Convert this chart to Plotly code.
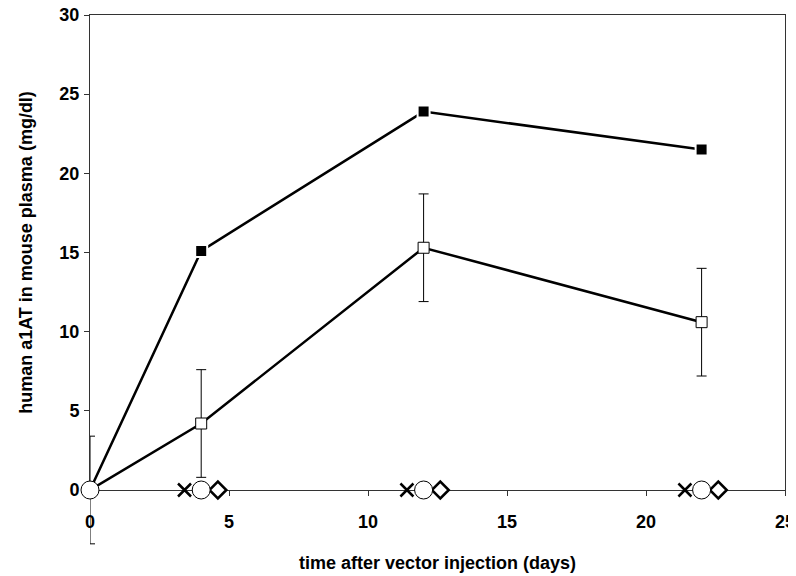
import plotly.graph_objects as go

days_sq = [0, 4, 12, 22]
filled_vals = [0, 15.1, 23.9, 21.5]
open_vals = [0, 4.2, 15.3, 10.6]
open_err = [3.4, 3.4, 3.4, 3.4]

circle_days = [0, 4, 12, 22]
circle_vals = [0, 0, 0, 0]
cross_days = [3.4, 11.4, 21.4]
cross_vals = [0, 0, 0]
diamond_days = [4.6, 12.6, 22.6]
diamond_vals = [0, 0, 0]

xticks = [0, 5, 10, 15, 20, 25]
yticks = [0, 5, 10, 15, 20, 25, 30]
x_range = [0, 25]
y_range = [0, 30]

font_fam = "Liberation Sans, Arial, sans-serif"

# layout geometry (pixels)
W, H = 796, 576
m_l, m_r, m_t = 82, 19, 7
main_h = 475          # height of the main plot box
below = 60            # extra room under y=0 for the error bar at day 0
m_b = H - m_t - main_h - below
area_h = main_h + below
y2_low = y_range[0] - below * (y_range[1] - y_range[0]) / main_h

fig = go.Figure()

# open squares (error bars for the points inside the box)
fig.add_trace(go.Scatter(
    x=days_sq[1:], y=open_vals[1:], mode="markers",
    marker=dict(size=0, opacity=0),
    error_y=dict(type="data", array=open_err[1:], visible=True, color="black", thickness=1, width=5),
    showlegend=False, hoverinfo="skip"))
fig.add_trace(go.Scatter(
    x=days_sq, y=open_vals, mode="lines+markers",
    line=dict(color="black", width=2.5),
    marker=dict(symbol="square", size=11, color="white", line=dict(color="black", width=1)),
    cliponaxis=False, showlegend=False))

fig.add_trace(go.Scatter(
    x=days_sq, y=filled_vals, mode="lines+markers",
    line=dict(color="black", width=2.5),
    marker=dict(symbol="square", size=12, color="black", line=dict(color="white", width=2)),
    cliponaxis=False, showlegend=False))

# extended overlay subplot: error bar at day 0 reaching below the axis, then the baseline markers
fig.add_trace(go.Scatter(
    x=days_sq[:1], y=open_vals[:1], mode="markers", xaxis="x2", yaxis="y2",
    marker=dict(size=0, opacity=0),
    error_y=dict(type="data", array=open_err[:1], visible=True, color="black", thickness=1, width=5),
    showlegend=False, hoverinfo="skip"))

fig.add_trace(go.Scatter(
    x=cross_days, y=cross_vals, mode="markers", xaxis="x2", yaxis="y2",
    marker=dict(symbol="x-thin", size=13, color="black", line=dict(color="black", width=2.5)),
    cliponaxis=False, showlegend=False))

fig.add_trace(go.Scatter(
    x=diamond_days, y=diamond_vals, mode="markers", xaxis="x2", yaxis="y2",
    marker=dict(symbol="diamond", size=13, color="white", line=dict(color="black", width=2.5)),
    cliponaxis=False, showlegend=False))

fig.add_trace(go.Scatter(
    x=circle_days, y=circle_vals, mode="markers", xaxis="x2", yaxis="y2",
    marker=dict(symbol="circle", size=18, color="white", line=dict(color="black", width=1)),
    cliponaxis=False, showlegend=False))

fig.update_layout(
    width=W, height=H,
    margin=dict(l=m_l, r=m_r, t=m_t, b=m_b),
    plot_bgcolor="rgba(0,0,0,0)", paper_bgcolor="white",
    font=dict(family=font_fam, color="black"),
    xaxis=dict(
        range=x_range, tickvals=xticks, ticks="outside", ticklen=5, tickcolor="#333",
        showline=True, linecolor="#333", linewidth=1, mirror=True,
        showgrid=False, zeroline=False, automargin=False, ticklabelstandoff=10,
        ticklabeloverflow="allow",
        tickfont=dict(size=18, weight="bold"),
        title=dict(text="time after vector injection (days)", font=dict(size=18, weight="bold"), standoff=25),
    ),
    yaxis=dict(
        domain=[below / area_h, 1],
        range=y_range, tickvals=yticks, ticks="outside", ticklen=5, tickcolor="#333",
        showline=True, linecolor="#333", linewidth=1, mirror=True,
        showgrid=False, zeroline=False, automargin=False, ticklabelstandoff=1,
        ticklabeloverflow="allow",
        tickfont=dict(size=18, weight="bold"),
        title=dict(text="human a1AT in mouse plasma (mg/dl)", font=dict(size=18, weight="bold"), standoff=22),
    ),
    xaxis2=dict(range=x_range, anchor="y2", visible=False),
    yaxis2=dict(range=[y2_low, y_range[1]], domain=[0, 1], anchor="x2", visible=False),
)

fig.write_html("out.html")
